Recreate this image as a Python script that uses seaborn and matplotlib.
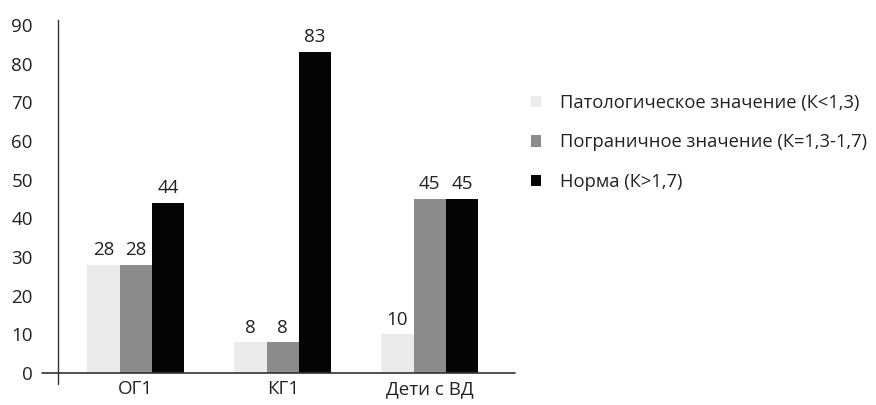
import pandas as pd
import seaborn as sns
import matplotlib.pyplot as plt

# ============ Data ============
groups = ['ОГ1', 'КГ1', 'Дети с ВД']
series = ['Патологическое значение (К<1,3)',
          'Пограничное значение (К=1,3-1,7)',
          'Норма (К>1,7)']
pathological = [28, 8, 10]
borderline = [28, 8, 45]
normal = [44, 83, 45]
colors = ['#ebebeb', '#8c8c8c', '#050505']

df = pd.DataFrame({
    'group': groups * 3,
    'series': [series[0]] * 3 + [series[1]] * 3 + [series[2]] * 3,
    'value': pathological + borderline + normal,
})

# ============ font style ============
sns.set_style('white')
plt.rcParams['font.family'] = ['Open Sans', 'DejaVu Sans']
plt.rcParams['font.size'] = 13.5

# ============ Plot ============
fig = plt.figure(figsize=(8.76, 4.05), dpi=100)
ax = fig.add_axes([0.066, 0.079, 0.522, 0.872])
sns.barplot(data=df, x='group', y='value', hue='series', order=groups,
            hue_order=series, palette=colors, width=0.66, saturation=1,
            linewidth=0, ax=ax)

for cont in ax.containers:
    ax.bar_label(cont, padding=4, fontsize=13.5, color='#222222')

ax.set_ylim(0, 91.3)
ax.set_xlim(-0.53, 2.58)
ax.set_yticks(range(0, 91, 10))
ax.set_xlabel('')
ax.set_ylabel('')
ax.tick_params(axis='y', length=0, pad=18, labelsize=13.5, labelcolor='#222222')
ax.tick_params(axis='x', length=0, pad=5, labelsize=13.5, labelcolor='#222222')

for s in ['top', 'right', 'bottom']:
    ax.spines[s].set_visible(False)
ax.spines['left'].set_color('#333333')
ax.spines['left'].set_linewidth(1)

# x-axis line extending left of the y axis, and y axis extending below 0
ax.plot([-0.035, 1.0], [0, 0], transform=ax.get_yaxis_transform(),
        color='#333333', lw=1.2, clip_on=False)
ax.plot([0, 0], [0, -0.03], transform=ax.transAxes,
        color='#333333', lw=1, clip_on=False)

leg = ax.legend(loc='upper left', bbox_to_anchor=(0.598, 0.785),
                bbox_transform=fig.transFigure, frameon=False,
                handlelength=0.55, handleheight=0.55, labelspacing=1.15,
                handletextpad=1.0, fontsize=13.2, borderaxespad=0)
for t in leg.get_texts():
    t.set_color('#222222')

fig.savefig('out.png', dpi=100)
